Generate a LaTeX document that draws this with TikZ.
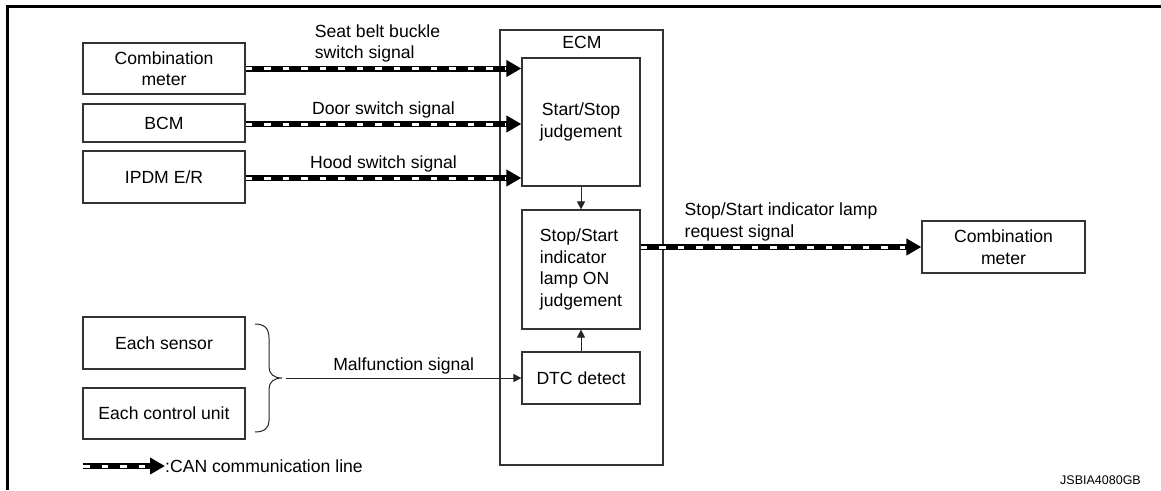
\documentclass[tikz,border=0pt]{standalone}
\usepackage{fontspec}
\setmainfont{Liberation Sans}
\usetikzlibrary{arrows.meta,calc}

\tikzset{
  every node/.style={font=\fontsize{17.6}{21.5}\selectfont, text=black},
  blk/.style={draw=black!80, line width=1.2pt, fill=white, inner sep=0pt, align=center},
  lbl/.style={inner sep=0pt, align=left},
  thin arrow/.style={line width=1pt, draw=black!85, -{Triangle[length=8pt,width=8pt]}},
  can/.style={line width=6pt, -{Triangle[length=15pt,width=16pt]},
    postaction={draw=white, line width=3pt, arrows=-, dash pattern=on 6.5pt off 12pt, shorten >=16pt}},
}

\begin{document}
\begin{tikzpicture}[x=1pt, y=-1pt]
  \useasboundingbox (0,0) rectangle (1161,490);

  % partial outer frame
  \draw[line width=3.4pt] (1161,6.3) -- (7.6,6.3) -- (7.6,490);

  % ECM housing
  \node[blk, minimum width=163pt, minimum height=435pt] (ecm) at (581.5,247.5) {};
  \node[inner sep=0pt] (ecmlbl) at (582,42.5) {ECM};

  % ECM internal blocks
  \node[blk, minimum width=118pt, minimum height=128pt] (ss) at (581,122) {Start/Stop\\judgement};
  \node[blk, minimum width=118pt, minimum height=119pt, align=left] (ind) at (581,269.5) {Stop/Start\\indicator\\lamp ON\\judgement};
  \node[blk, minimum width=118pt, minimum height=52pt] (dtc) at (581,378) {DTC detect};

  % input units
  \node[blk, minimum width=162pt, minimum height=51pt] (cm) at (164,68.5) {Combination\\meter};
  \node[blk, minimum width=162pt, minimum height=38pt] (bcm) at (164,123) {BCM};
  \node[blk, minimum width=162pt, minimum height=52pt] (ipdm) at (164,177) {IPDM E/R};
  \node[blk, minimum width=162pt, minimum height=52pt] (sens) at (164,343) {Each sensor};
  \node[blk, minimum width=162pt, minimum height=51pt] (cu) at (164,413.5) {Each control unit};

  % output unit
  \node[blk, minimum width=163pt, minimum height=52pt] (cm2) at (1003.5,247) {Combination\\meter};

  % CAN inputs
  \draw[can] (cm.east) -- node[lbl, above=3pt, xshift=-6pt] {Seat belt buckle\\switch signal} (cm.east -| ss.west);
  \draw[can] ([yshift=-1pt]bcm.east) -- node[lbl, above=3pt] {Door switch signal} ([yshift=-1pt]bcm.east -| ss.west);
  \draw[can] ([yshift=-1pt]ipdm.east) -- node[lbl, above=3pt] {Hood switch signal} ([yshift=-1pt]ipdm.east -| ss.west);

  % CAN output
  \draw[can] (ind.east |- cm2.west) -- node[lbl, above=3pt] {Stop/Start indicator lamp\\request signal} (cm2.west);

  % internal flow
  \draw[thin arrow] (ss.south) -- (ind.north);
  \draw[thin arrow] (dtc.north) -- (ind.south);

  % brace grouping sensors and control units
  \coordinate (btip) at (282,378);
  \draw[line width=1pt, black!85] (255,324) .. controls (264,324) and (269,328) .. (269,338)
    -- (269,367) .. controls (269,374) and (274,378) .. (btip)
    .. controls (274,378) and (269,382) .. (269,389)
    -- (269,421) .. controls (269,428) and (264,432) .. (255,432);

  \draw[thin arrow] ([xshift=4pt]btip) -- node[lbl, above=3pt] {Malfunction signal} (dtc.west);

  % legend
  \coordinate (lga) at (83,466);
  \coordinate (lgb) at (165,466);
  \draw[can] (lga) -- (lgb);
  \node[lbl, anchor=west] (lgtxt) at (lgb) {:CAN communication line};

  % drawing code
  \node[inner sep=0pt, anchor=base east, font=\fontsize{12.5}{15}\selectfont] (code) at (1141,484) {JSBIA4080GB};
\end{tikzpicture}
\end{document}
